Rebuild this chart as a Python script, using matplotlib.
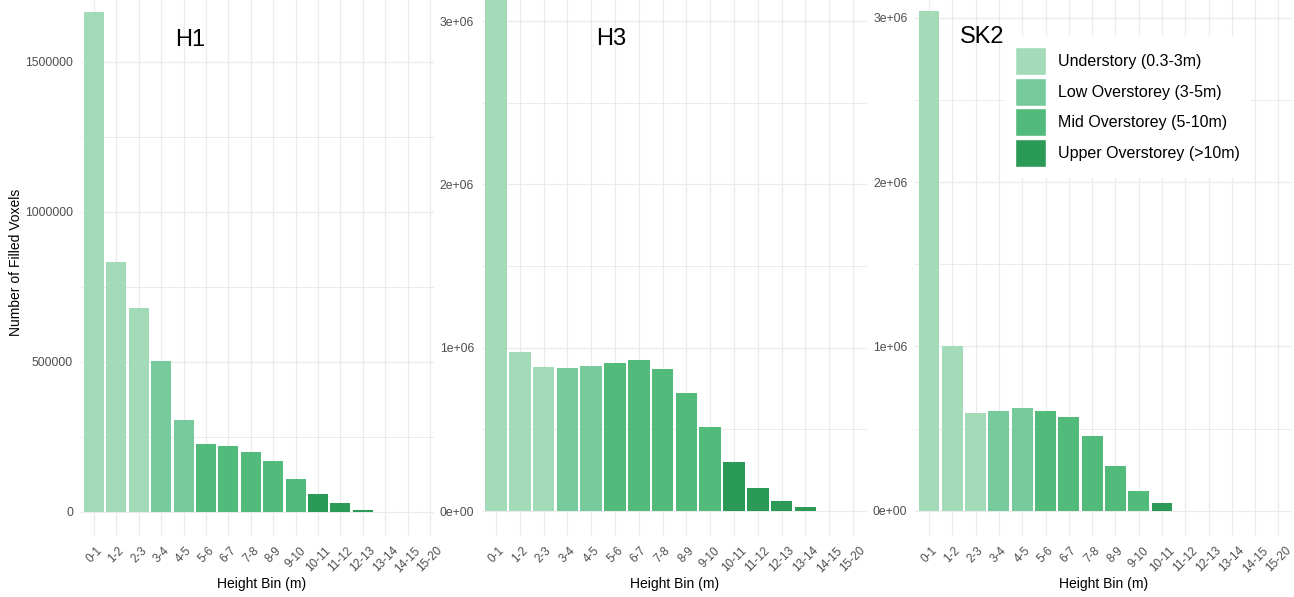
import matplotlib
matplotlib.use("Agg")
import matplotlib.pyplot as plt
from matplotlib.patches import Patch
from matplotlib.ticker import MultipleLocator, FuncFormatter

plt.rcParams['font.family'] = ['Liberation Sans', 'DejaVu Sans']

bins = ['0-1', '1-2', '2-3', '3-4', '4-5', '5-6', '6-7', '7-8', '8-9', '9-10',
        '10-11', '11-12', '12-13', '13-14', '14-15', '15-20']
layer = ['under'] * 3 + ['low'] * 2 + ['mid'] * 5 + ['upper'] * 6

h1 = [1665000, 833000, 680000, 503000, 307000, 227000, 220000, 200000,
      170000, 110000, 60000, 30000, 8000, 0, 0, 0]
h3 = [3150000, 975000, 884000, 878000, 886000, 904000, 923000, 867000,
      722000, 512000, 302000, 139000, 61000, 24000, 0, 0]
sk2 = [3040000, 1003000, 593000, 605000, 623000, 608000, 568000, 456000,
       274000, 122000, 45000, 0, 0, 0, 0, 0]

layer_names = {'under': 'Understory (0.3-3m)',
               'low': 'Low Overstorey (3-5m)',
               'mid': 'Mid Overstorey (5-10m)',
               'upper': 'Upper Overstorey (>10m)'}
layer_cols = {'under': '#a3dbb9', 'low': '#77ca9c', 'mid': '#52bb7b', 'upper': '#2b9a57'}

W, H = 1294, 597
fig = plt.figure(figsize=(W / 100, H / 100), dpi=100)

grid_col = '#ebebeb'


def px_axes(left, top, width, height):
    return fig.add_axes([left / W, 1 - (top + height) / H, width / W, height / H])


def sci(v, pos):
    if v == 0:
        return '0e+00'
    return '%de+06' % round(v / 1e6)


# (name, values, first tick px, step px, xlim right, zero px, px per unit, formatter, major, minor, title pos)
panels = [
    ('H1', h1, 94, 22.4, 15.2, 512, 1 / 3333.3, None, 500000, 250000, (190, 40)),
    ('H3', h3, 496, 23.8, 15.6, 511, 163.3e-6, sci, 1e6, 5e5, (611, 39)),
    ('SK2', sk2, 929, 23.3, 15.6, 510.7, 164.3e-6, sci, 1e6, 5e5, (982, 37)),
]

bottom_px = 535
x = list(range(len(bins)))
cols = [layer_cols[g] for g in layer]

for i, (name, vals, t0, step, xr, zero, scale, fmt, maj, mnr, tpos) in enumerate(panels):
    left = t0 - 0.6 * step
    ax = px_axes(left, 0, (xr + 0.6) * step, bottom_px)
    ax.bar(x, vals, width=0.9, color=cols, edgecolor='none', zorder=2)
    ax.set_xlim(-0.6, xr)
    ax.set_ylim(-(bottom_px - zero) / scale, zero / scale)

    ax.set_xticks(x)
    ax.set_xticklabels(bins, rotation=45, ha='center', fontsize=8.5, color='#4d4d4d')
    ax.yaxis.set_major_locator(MultipleLocator(maj))
    ax.yaxis.set_minor_locator(MultipleLocator(mnr))
    if fmt is not None:
        ax.yaxis.set_major_formatter(FuncFormatter(fmt))
    else:
        ax.yaxis.set_major_formatter(FuncFormatter(lambda v, p: '%d' % v))
    ax.tick_params(axis='y', which='both', length=0, pad=5.5, labelsize=8.8, labelcolor='#4d4d4d')
    ax.tick_params(axis='x', length=0, pad=7)

    ax.grid(which='major', color=grid_col, lw=0.9, zorder=0)
    ax.grid(which='minor', axis='y', color=grid_col, lw=0.7, zorder=0)
    ax.set_axisbelow(True)
    for s in ax.spines.values():
        s.set_visible(False)
    ax.patch.set_alpha(0)

    ax.set_xlabel('Height Bin (m)', fontsize=10)
    full_center = (7.5 + 0.6) / (xr + 0.6)
    ax.xaxis.set_label_coords(full_center, -(584 - bottom_px) / bottom_px)
    ax.xaxis.label.set_va('center')

    if i == 0:
        ax.set_ylabel('Number of Filled Voxels', fontsize=10)
        ax.yaxis.set_label_coords(-(left - 16) / ((xr + 0.6) * step), (bottom_px - 262) / bottom_px)
        ax.yaxis.label.set_va('center')

    fig.text(tpos[0] / W, 1 - tpos[1] / H, name, fontsize=17, ha='center', va='center')

    if i == 2:
        handles = [Patch(facecolor=layer_cols[k], edgecolor='white', lw=1, label=layer_names[k])
                   for k in ['under', 'low', 'mid', 'upper']]
        leg = fig.legend(handles=handles, loc='upper left',
                         bbox_to_anchor=(1004 / W, 1 - 36 / H),
                         fontsize=11.5, frameon=True, framealpha=1,
                         edgecolor='white', fancybox=False,
                         handlelength=1.9, handleheight=2.33, labelspacing=0.15,
                         handletextpad=0.75, borderpad=0.7, borderaxespad=0)
        leg.get_frame().set_linewidth(0)

fig.savefig('out.png', dpi=100, facecolor='white')
